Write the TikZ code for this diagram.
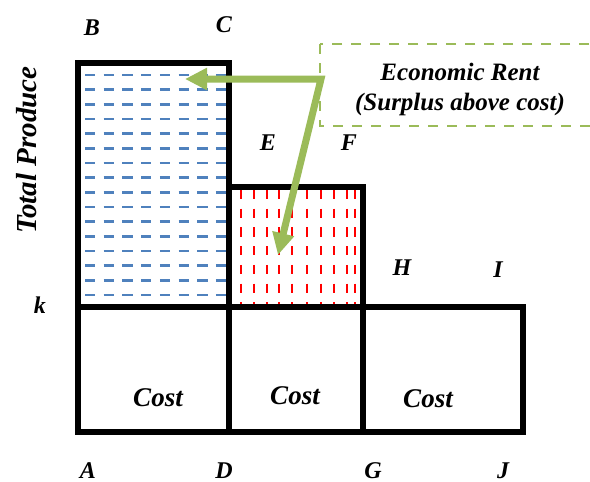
\documentclass[tikz,border=0pt]{standalone}
\usepackage{fontspec}
\setmainfont{Liberation Serif}
\usetikzlibrary{arrows.meta}
\definecolor{ogreen}{HTML}{9BBB59}
\definecolor{oblue}{HTML}{4F81BD}
\tikzset{
  outline/.style={line width=5.5pt, line join=miter, line cap=rect},
  bluedash/.style={draw=oblue, line width=2.8pt, dash pattern=on 10.3pt off 8.4pt},
  reddash/.style={draw=red, line width=2.8pt, dash pattern=on 9.3pt off 9.4pt},
  lbl/.style={font=\fontsize{24}{28}\selectfont\bfseries\itshape, inner sep=0pt},
  costlbl/.style={font=\fontsize{27}{30}\selectfont\bfseries\itshape, inner sep=0pt},
  rentbox/.style={draw=ogreen, line width=2.5pt, dash pattern=on 10pt off 9pt},
  rentarrow/.style={draw=ogreen, line width=7pt, line join=miter,
    {Triangle[length=22pt, width=21pt]}-{Triangle[length=22pt, width=21pt]}},
}
\begin{document}
\begin{tikzpicture}[x=1pt, y=-1pt]
\useasboundingbox (0,0) rectangle (590,482);
\begin{scope}
\clip (0,0) rectangle (590,482);
% blue horizontal dashes (rent area B-C)
\foreach \i in {0,...,15} {
  \draw[bluedash] (85,{75+\i*14.67}) -- (226,{75+\i*14.67});
}
% red vertical dashes (rent area E-F)
\foreach \xx in {241,254,267,279,292,307,321,334,347,355} {
  \draw[reddash] (\xx,190) -- (\xx,305);
}
% black outline
\draw[outline] (78,63) -- (229,63) -- (229,187) -- (363,187) -- (363,307)
  -- (523,307) -- (523,432) -- (78,432) -- cycle;
\draw[outline] (78,307) -- (523,307);
\draw[outline] (229,187) -- (229,432);
\draw[outline] (363,307) -- (363,432);
% green dashed box
\draw[rentbox, fill=white] (320,44) rectangle (610,126);
\node[font=\fontsize{25}{30}\selectfont\bfseries\itshape, align=center, inner sep=0pt]
  (rent) at (460,89) {Economic Rent\\(Surplus above cost)};
% arrows
\coordinate (junc) at (321,79);
\coordinate (tipL) at (185,79);
\coordinate (tipD) at (278,255);
\draw[rentarrow] (tipL) -- (junc) -- (tipD);
\end{scope}
% labels
\node[lbl] (B) at (92,28) {B};
\node[lbl] (C) at (224,25) {C};
\node[lbl] (E) at (268,143) {E};
\node[lbl] (F) at (349,143) {F};
\node[lbl] (H) at (402,268) {H};
\node[lbl] (I) at (498,270) {I};
\node[lbl] (k) at (40,305) {k};
\node[lbl] (A) at (88,471) {A};
\node[lbl] (D) at (224,471) {D};
\node[lbl] (G) at (373,471) {G};
\node[lbl] (J) at (503,471) {J};
\node[costlbl] (cost1) at (158,398) {Cost};
\node[costlbl] (cost2) at (295,396) {Cost};
\node[costlbl] (cost3) at (428,399) {Cost};
\node[font=\fontsize{29}{32}\selectfont\bfseries\itshape, rotate=90, inner sep=0pt]
  (tp) at (27,150) {Total Produce};
\end{tikzpicture}
\end{document}
